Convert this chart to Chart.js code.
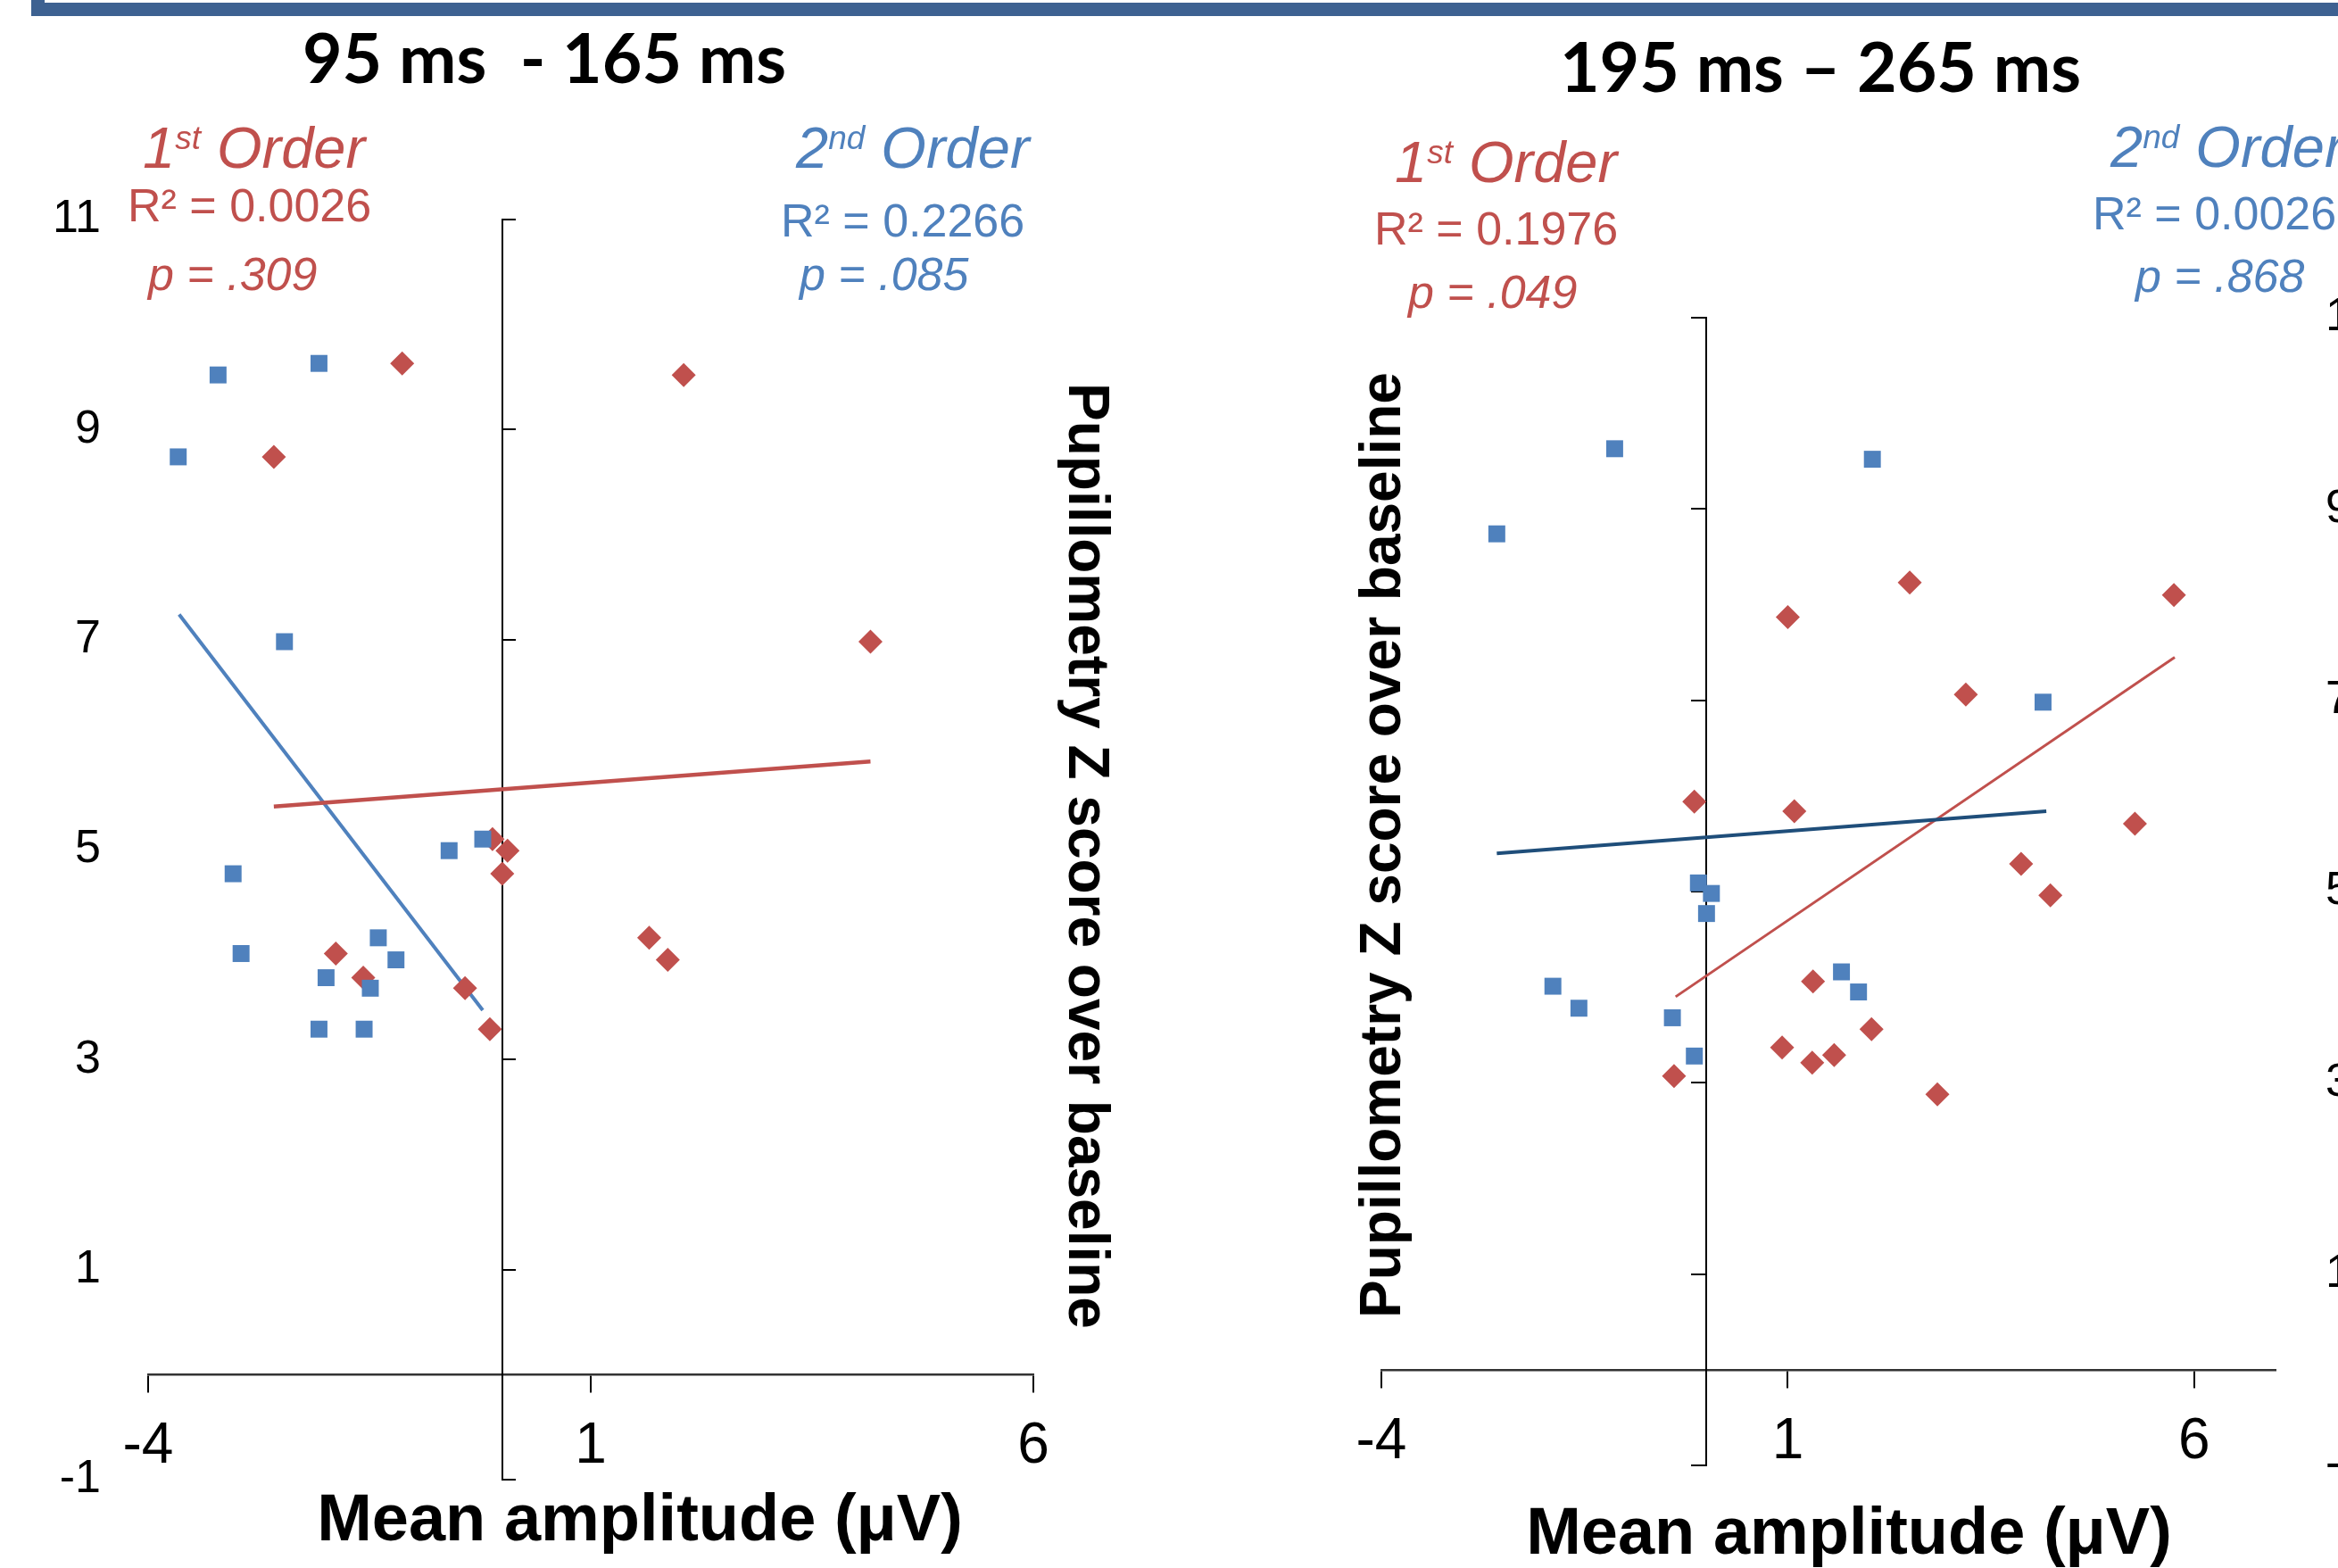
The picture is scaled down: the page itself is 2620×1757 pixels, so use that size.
<!DOCTYPE html>
<html>
<head>
<meta charset="utf-8">
<script src="https://cdn.jsdelivr.net/npm/chart.js@4.4.1/dist/chart.umd.min.js"></script>
<style>
  body { margin: 0; width: 2620px; height: 1757px; overflow: hidden; position: relative; background: #fff; }
  .frame { position: absolute; left: 35px; top: 0; width: 2585px; height: 18px; background: #3d6191; }
  .frame-in { position: absolute; left: 50px; top: 0; width: 2570px; height: 3px; background: #fff; }
  canvas { position: absolute; top: 0; }
  .txt { position: absolute; font-family: 'Liberation Sans', Arial, sans-serif; line-height: 1; white-space: nowrap; }
  .stat { font-size: 52px; }
  .ital { font-style: italic; }
  .order { font-size: 65px; font-style: italic; }
  .order sup { font-size: 37px; vertical-align: 21px; line-height: 0; }
  .red { color: #c0504d; }
  .blue { color: #4f81bd; }
  .title { position: absolute; font-family: Lato, 'Open Sans', sans-serif; font-weight: 700; font-size: 77px; line-height: 1; white-space: pre; transform: translateX(-50%); color: #000; }
  .axt { font-weight: 700; color: #000; }
  .xt { font-size: 74px; transform: translateX(-50%); }
  .yt { font-size: 64px; }
</style>
</head>
<body>
<div class="frame"></div><div class="frame-in"></div>

<canvas id="early" width="1300" height="1757" style="left:0"></canvas>
<canvas id="late" width="1400" height="1757" style="left:1300px"></canvas>

<div class="title" style="left:610px; top:25px">95 ms  - 165 ms</div>
<div class="title" style="left:2040px; top:35px">195 ms – 265 ms</div>

<!-- 95-165 ms annotations -->
<div class="txt order red" style="left:160px; top:133px">1<sup>st</sup> Order</div>
<div class="txt stat red" style="left:143px; top:204px">R² = 0.0026</div>
<div class="txt stat red ital" style="left:166px; top:281px">p = .309</div>
<div class="txt order blue" style="left:892px; top:133px">2<sup>nd</sup> Order</div>
<div class="txt stat blue" style="left:875px; top:221px">R² = 0.2266</div>
<div class="txt stat blue ital" style="left:896px; top:281px">p = .085</div>

<!-- 195-265 ms annotations -->
<div class="txt order red" style="left:1563px; top:149px">1<sup>st</sup> Order</div>
<div class="txt stat red" style="left:1540px; top:230px">R² = 0.1976</div>
<div class="txt stat red ital" style="left:1578px; top:301px">p = .049</div>
<div class="txt order blue" style="left:2365px; top:132px">2<sup>nd</sup> Order</div>
<div class="txt stat blue" style="left:2345px; top:213px">R² = 0.0026</div>
<div class="txt stat blue ital" style="left:2393px; top:283px">p = .868</div>

<!-- axis titles -->
<div class="txt axt xt" style="left:717px; top:1664px">Mean amplitude (μV)</div>
<div class="txt axt xt" style="left:2072px; top:1679px">Mean amplitude (μV)</div>
<div class="txt axt yt" style="left:1220px; top:959px; transform: translate(-50%,-50%) rotate(90deg)">Pupillometry Z score over baseline</div>
<div class="txt axt yt" style="left:1547px; top:947px; transform: translate(-50%,-50%) rotate(-90deg)">Pupillometry Z score over baseline</div>

<script>
// axis ticks
const yTicks = [-1, 1, 3, 5, 7, 9, 11];
const xTicks = [-4, 1, 6];

// 95 ms - 165 ms
const early2ndX = [-3.21, -2.07, -3.66, -2.46, -3.04, -2.95, -1.99, -2.07, -1.56, -1.40, -1.20, -1.49, -0.60, -0.22];
const early2ndY = [9.52, 9.63, 8.74, 6.98, 4.77, 4.01, 3.78, 3.29, 3.29, 4.16, 3.95, 3.68, 4.99, 5.10];
const early1stX = [-1.13, -2.58, 2.05, 4.16, -0.11, 0.06, 0.00, 1.66, 1.87, -1.88, -1.57, -0.42, -0.14];
const early1stY = [9.63, 8.74, 9.52, 6.98, 5.10, 4.99, 4.77, 4.16, 3.95, 4.01, 3.78, 3.68, 3.29];
// trendline ends
const early1stFitX = [-2.58, 4.16];
const early1stFitY = [5.41, 5.84];
const early2ndFitX = [-3.65, -0.22];
const early2ndFitY = [7.24, 3.47];

// 195 ms - 265 ms
const late2ndX = [-1.13, -2.58, 2.04, 4.14, -0.10, 0.06, 0.00, -1.89, -1.57, -0.42, -0.15, 1.66, 1.87];
const late2ndY = [9.63, 8.74, 9.52, 6.98, 5.09, 4.98, 4.77, 4.01, 3.78, 3.68, 3.28, 4.16, 3.95];
const late1stX = [1.00, 2.50, 5.75, 3.19, -0.15, 1.08, 5.27, 3.87, 4.23, 1.31, 2.03, 0.93, 1.30, 1.57, -0.40, 2.84];
const late1stY = [7.87, 8.23, 8.10, 7.06, 5.94, 5.84, 5.71, 5.29, 4.96, 4.06, 3.56, 3.37, 3.21, 3.29, 3.07, 2.88];
const late1stFitX = [-0.38, 5.76];
const late1stFitY = [3.90, 7.45];
const late2ndFitX = [-2.58, 4.18];
const late2ndFitY = [5.40, 5.84];

const RED = '#c0504d', BLUE = '#4f81bd', NAVY = '#1f4e7a';

Chart.defaults.font.family = "'Liberation Sans', Arial, sans-serif";
Chart.defaults.color = '#000';

function pts(xs, ys) {
    return xs.map((x, i) => ({ x: x, y: ys[i] }));
}

function squares(xs, ys) {
    return { data: pts(xs, ys), pointStyle: 'rect', pointRadius: 13.4, backgroundColor: BLUE, pointBorderWidth: 0 };
}
function diamonds(xs, ys) {
    return { data: pts(xs, ys), pointStyle: 'rectRot', pointRadius: 13.5, backgroundColor: RED, pointBorderWidth: 0 };
}
function fitLine(xs, ys, color, w) {
    return { data: pts(xs, ys), showLine: true, pointRadius: 0, borderColor: color, borderWidth: w };
}

const setTicks = list => s => { s.ticks = list.map(v => ({ value: v })); };

// one scatter panel; y labels sit on the outer side, the axes cross at zero
function drawPanel(id, xMax, side, sideWidth, labelPad, tickLen, padding, datasets) {
    const ctx = document.getElementById(id).getContext('2d');
    return new Chart(ctx, {
        type: 'scatter',
        data: { datasets: datasets },
        options: {
            responsive: false,
            animation: false,
            layout: { padding: padding },
            plugins: { legend: { display: false }, tooltip: { enabled: false } },
            scales: {
                x: {
                    type: 'linear', position: { y: 0 }, min: -4, max: xMax,
                    afterBuildTicks: setTicks(xTicks),
                    grid: { display: true, drawOnChartArea: false, drawTicks: true, tickLength: 19, color: '#000', lineWidth: 2 },
                    border: { display: true, color: '#333', width: 2.5 },
                    ticks: { autoSkip: false, maxRotation: 0, padding: 24, font: { size: 64 } }
                },
                y: {
                    type: 'linear', position: side, min: -1, max: 11,
                    afterBuildTicks: setTicks(yTicks),
                    afterFit: s => { s.width = sideWidth; },
                    grid: { display: false },
                    border: { display: false },
                    ticks: { autoSkip: false, padding: labelPad, font: { size: 52 } }
                },
                yLine: {
                    type: 'linear', position: { x: 0 }, min: -1, max: 11,
                    afterBuildTicks: setTicks(yTicks),
                    ticks: { display: false },
                    grid: { display: true, drawOnChartArea: false, drawTicks: true, tickLength: tickLen, color: '#000', lineWidth: 2 },
                    border: { display: true, color: '#000', width: 2 }
                }
            }
        }
    });
}

drawPanel('early', 6, 'left', 166, 45, -16, { left: 0, top: 246, right: 142, bottom: 99 }, [
    squares(early2ndX, early2ndY),
    diamonds(early1stX, early1stY),
    fitLine(early1stFitX, early1stFitY, RED, 4.5),
    fitLine(early2ndFitX, early2ndFitY, BLUE, 4)
]);

drawPanel('late', 7, 'right', 150, 48, 16, { left: 248, top: 356, right: 0, bottom: 115 }, [
    squares(late2ndX, late2ndY),
    diamonds(late1stX, late1stY),
    fitLine(late2ndFitX, late2ndFitY, NAVY, 4),
    fitLine(late1stFitX, late1stFitY, RED, 3)
]);
</script>
</body>
</html>
